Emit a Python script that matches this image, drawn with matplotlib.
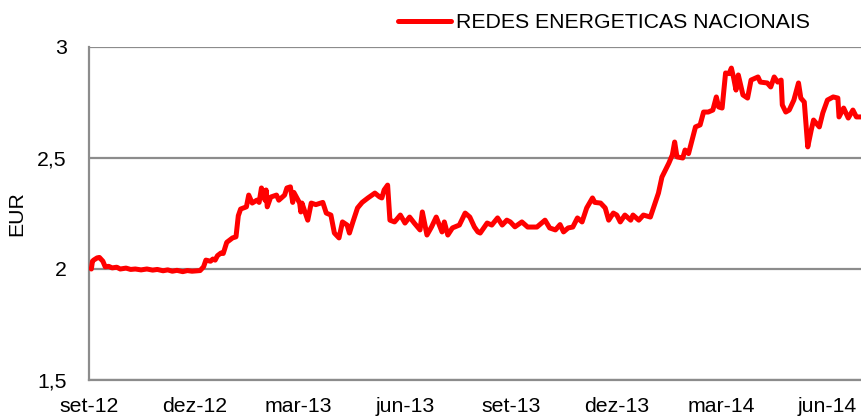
import matplotlib
matplotlib.use("Agg")
import matplotlib.pyplot as plt
import pandas as pd

plt.rcParams['font.family'] = ['Liberation Sans', 'DejaVu Sans']

series_name = "REDES ENERGETICAS NACIONAIS"
y_label = "EUR"

dates = [
    "2012-09-03", "2012-09-04", "2012-09-05", "2012-09-08", "2012-09-10", "2012-09-13",
    "2012-09-15", "2012-09-18", "2012-09-21", "2012-09-25", "2012-09-28", "2012-10-03",
    "2012-10-07", "2012-10-11", "2012-10-16", "2012-10-21", "2012-10-26", "2012-10-30",
    "2012-11-04", "2012-11-08", "2012-11-12", "2012-11-16", "2012-11-21", "2012-11-25",
    "2012-11-29", "2012-12-03", "2012-12-06", "2012-12-09", "2012-12-11", "2012-12-15",
    "2012-12-17", "2012-12-19", "2012-12-21", "2012-12-24", "2012-12-26", "2012-12-29",
    "2013-01-03", "2013-01-06", "2013-01-08", "2013-01-10", "2013-01-15", "2013-01-17",
    "2013-01-20", "2013-01-24", "2013-01-26", "2013-01-28", "2013-01-31", "2013-02-01",
    "2013-02-02", "2013-02-05", "2013-02-10", "2013-02-12", "2013-02-17", "2013-02-19",
    "2013-02-22", "2013-02-24", "2013-02-25", "2013-03-02", "2013-03-03", "2013-03-04",
    "2013-03-09", "2013-03-12", "2013-03-16", "2013-03-22", "2013-03-25", "2013-03-29",
    "2013-04-01", "2013-04-05", "2013-04-08", "2013-04-12", "2013-04-14", "2013-04-17",
    "2013-04-21", "2013-04-25", "2013-04-30", "2013-05-06", "2013-05-10", "2013-05-12",
    "2013-05-14", "2013-05-17", "2013-05-19", "2013-05-23", "2013-05-28", "2013-06-01",
    "2013-06-05", "2013-06-09", "2013-06-14", "2013-06-16", "2013-06-20", "2013-06-24",
    "2013-06-28", "2013-07-03", "2013-07-05", "2013-07-08", "2013-07-12", "2013-07-18",
    "2013-07-23", "2013-07-27", "2013-07-31", "2013-08-03", "2013-08-05", "2013-08-11",
    "2013-08-15", "2013-08-20", "2013-08-24", "2013-08-28", "2013-08-31", "2013-09-04",
    "2013-09-10", "2013-09-15", "2013-09-23", "2013-09-30", "2013-10-04", "2013-10-09",
    "2013-10-13", "2013-10-16", "2013-10-20", "2013-10-24", "2013-10-28", "2013-11-01",
    "2013-11-05", "2013-11-10", "2013-11-12", "2013-11-17", "2013-11-21", "2013-11-24",
    "2013-11-28", "2013-12-01", "2013-12-04", "2013-12-08", "2013-12-13", "2013-12-15",
    "2013-12-20", "2013-12-24", "2013-12-30", "2014-01-02", "2014-01-06", "2014-01-09",
    "2014-01-12", "2014-01-15", "2014-01-18", "2014-01-20", "2014-01-22", "2014-01-27",
    "2014-01-29", "2014-02-01", "2014-02-04", "2014-02-07", "2014-02-11", "2014-02-14",
    "2014-02-18", "2014-02-22", "2014-02-25", "2014-02-27", "2014-03-02", "2014-03-05",
    "2014-03-08", "2014-03-10", "2014-03-12", "2014-03-14", "2014-03-16", "2014-03-20",
    "2014-03-24", "2014-03-27", "2014-04-02", "2014-04-04", "2014-04-10", "2014-04-13",
    "2014-04-16", "2014-04-19", "2014-04-22", "2014-04-23", "2014-04-26", "2014-04-29",
    "2014-05-03", "2014-05-07", "2014-05-09", "2014-05-12", "2014-05-15", "2014-05-18",
    "2014-05-20", "2014-05-25", "2014-05-28", "2014-06-01", "2014-06-06", "2014-06-10",
    "2014-06-11", "2014-06-15", "2014-06-19", "2014-06-23", "2014-06-26", "2014-06-30",
]

prices = [
    2.000, 2.035, 2.040, 2.050, 2.052, 2.035,
    2.010, 2.012, 2.005, 2.008, 2.000, 2.004,
    1.998, 2.000, 1.996, 2.000, 1.995, 1.998,
    1.992, 1.996, 1.990, 1.994, 1.988, 1.993,
    1.990, 1.992, 1.993, 2.010, 2.040, 2.035,
    2.045, 2.040, 2.060, 2.072, 2.070, 2.120,
    2.140, 2.145, 2.240, 2.270, 2.280, 2.333,
    2.297, 2.310, 2.300, 2.365, 2.310, 2.356,
    2.280, 2.324, 2.333, 2.310, 2.333, 2.365,
    2.370, 2.300, 2.345, 2.297, 2.257, 2.297,
    2.220, 2.297, 2.290, 2.300, 2.252, 2.243,
    2.162, 2.140, 2.212, 2.198, 2.162, 2.212,
    2.275, 2.300, 2.320, 2.342, 2.325, 2.320,
    2.356, 2.378, 2.220, 2.212, 2.243, 2.207,
    2.234, 2.207, 2.176, 2.257, 2.153, 2.190,
    2.234, 2.167, 2.212, 2.153, 2.185, 2.198,
    2.252, 2.234, 2.189, 2.167, 2.162, 2.207,
    2.198, 2.230, 2.198, 2.220, 2.212, 2.190,
    2.212, 2.189, 2.189, 2.220, 2.185, 2.176,
    2.200, 2.167, 2.185, 2.189, 2.230, 2.212,
    2.275, 2.320, 2.300, 2.297, 2.275, 2.220,
    2.252, 2.243, 2.212, 2.243, 2.220, 2.243,
    2.220, 2.243, 2.234, 2.280, 2.342, 2.414,
    2.446, 2.477, 2.514, 2.572, 2.505, 2.500,
    2.536, 2.520, 2.581, 2.640, 2.649, 2.707,
    2.707, 2.716, 2.775, 2.730, 2.725, 2.883,
    2.880, 2.905, 2.860, 2.806, 2.874, 2.784,
    2.770, 2.851, 2.865, 2.842, 2.838, 2.820,
    2.865, 2.842, 2.851, 2.739, 2.707, 2.716,
    2.761, 2.838, 2.770, 2.752, 2.550, 2.626,
    2.671, 2.640, 2.703, 2.761, 2.775, 2.770,
    2.685, 2.725, 2.680, 2.716, 2.685, 2.685,
]

x_tick_dates = ["2012-09-01", "2012-12-01", "2013-03-01", "2013-06-01",
                "2013-09-01", "2013-12-01", "2014-03-01", "2014-06-01"]
x_tick_labels = ["set-12", "dez-12", "mar-13", "jun-13",
                 "set-13", "dez-13", "mar-14", "jun-14"]
y_ticks = [1.5, 2.0, 2.5, 3.0]
y_tick_labels = ["1,5", "2", "2,5", "3"]

x = pd.to_datetime(dates)
fig = plt.figure(figsize=(8.61, 4.17), dpi=100)
ax = fig.add_axes([89 / 861, 1 - 380 / 417, 1 - 89 / 861, (380 - 47) / 417])

grid_color = "#8c8c8c"
fs = 15.3
line, = ax.plot(x, prices, color="#ff0000", lw=3.6, solid_joinstyle="round",
                solid_capstyle="round", label=series_name, zorder=3)

ax.set_xlim(pd.Timestamp("2012-09-01"), pd.Timestamp("2014-06-30"))
ax.set_ylim(1.5, 3.0)
ax.set_yticks(y_ticks)
ax.set_yticklabels(y_tick_labels)
ax.set_xticks(pd.to_datetime(x_tick_dates))
ax.set_xticklabels(x_tick_labels)
ax.tick_params(axis="both", length=0, labelsize=fs, colors="black")
ax.tick_params(axis="y", pad=16)
ax.tick_params(axis="x", pad=12)

ax.grid(axis="y", color=grid_color, lw=1.6)
ax.set_axisbelow(True)
for side in ("top", "right"):
    ax.spines[side].set_visible(False)
for side in ("left", "bottom"):
    ax.spines[side].set_color(grid_color)
    ax.spines[side].set_linewidth(1.6)

ax.set_ylabel(y_label, fontsize=fs, labelpad=8)

fig.legend(handles=[line], loc="center left", frameon=False, fontsize=fs,
           bbox_to_anchor=(389 / 861, 1 - 23 / 417), handlelength=2.5,
           handletextpad=0.25, borderaxespad=0)

fig.savefig("out.png", dpi=100)
